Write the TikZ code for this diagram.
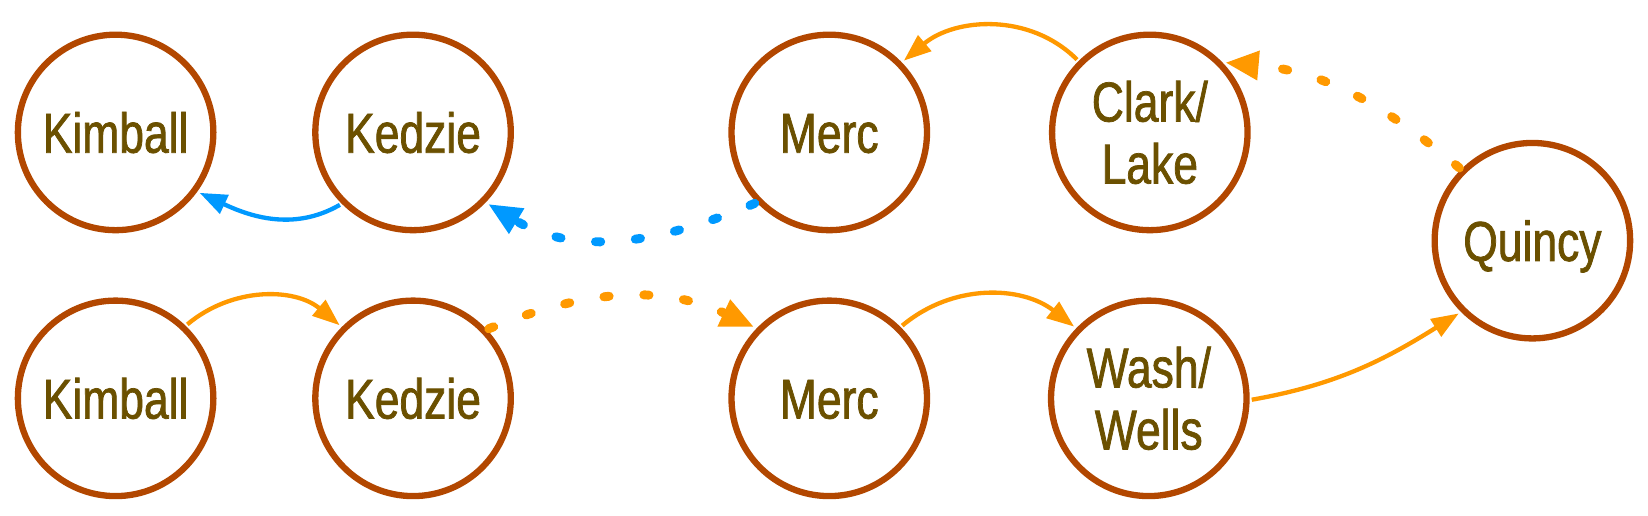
\documentclass[tikz,border=0pt]{standalone}
\usepackage{fontspec}
\newfontfamily\lblfont{Liberation Sans}[FakeStretch=0.79,FakeBold=1.3]
\usetikzlibrary{arrows.meta}
\definecolor{nodeline}{RGB}{178,71,0}
\definecolor{nodetext}{RGB}{107,80,0}
\definecolor{orangeline}{RGB}{255,153,0}
\definecolor{blueline}{RGB}{0,153,255}
\begin{document}
\begin{tikzpicture}[x=1pt,y=1pt,
  station/.style={circle,draw=nodeline,line width=6pt,minimum size=186pt,inner sep=0pt,
    text=nodetext,font=\lblfont\fontsize{53.5}{59}\selectfont,align=center},
  oneline/.style={text height=38.5pt,text depth=0pt},
  solidedge/.style={line width=4.1pt,shorten <=2pt,shorten >=2.5pt,-{Triangle[length=26pt,width=19pt]}},
  dotedge/.style={line width=8.5pt,line cap=round,dash pattern=on 5pt off 33pt,shorten <=2pt,shorten >=2.5pt,
    -{Triangle[length=32pt,width=26pt]}},
]
\useasboundingbox (0,0) rectangle (1568,-490);
\node[station,oneline] (kb1) at (110,-126) {Kimball};
\node[station,oneline] (kz1) at (393,-126) {Kedzie};
\node[station,oneline] (mc1) at (789,-126) {Merc};
\node[station] (cl) at (1094,-126) {Clark/\\Lake};
\node[station,oneline] (qc) at (1458,-229) {Quincy};
\node[station,oneline] (kb2) at (110,-379) {Kimball};
\node[station,oneline] (kz2) at (393,-379) {Kedzie};
\node[station,oneline] (mc2) at (789,-379) {Merc};
\node[station] (ww) at (1093,-379) {Wash/\\Wells};

\draw[solidedge,blueline] (kz1.225) to[out=210,in=-25] (kb1.-36);
\draw[dotedge,blueline] (mc1.224) to[out=203,in=-31] (kz1.-44);
\draw[solidedge,orangeline] (kb2.46) to[out=40,in=140] (kz2.135);
\draw[dotedge,orangeline] (kz2.43) to[out=22,in=155] (mc2.136);
\draw[solidedge,orangeline] (mc2.45) to[out=40,in=142] (ww.136);
\draw[solidedge,orangeline] (ww.-1) to[out=10,in=212] (qc.225);
\draw[dotedge,orangeline] (qc.135) to[out=140,in=-5] (cl.44);
\draw[solidedge,orangeline] (cl.135) to[out=135,in=40] (mc1.44);
\end{tikzpicture}
\end{document}
